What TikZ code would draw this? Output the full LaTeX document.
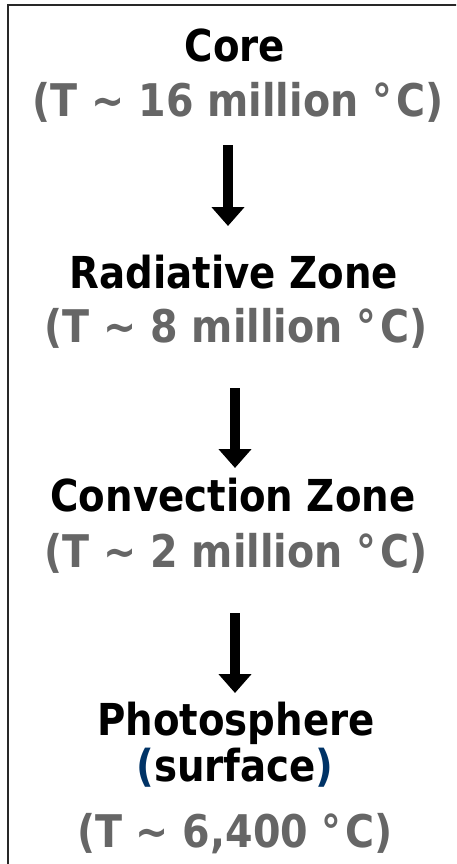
\documentclass[tikz,border=0pt]{standalone}
\usepackage{fontspec}
\setmainfont{DejaVu Sans}[FakeStretch=0.88]
\usetikzlibrary{arrows.meta}
\definecolor{tgray}{RGB}{102,102,102}
\definecolor{pblue}{RGB}{0,51,102}
\definecolor{frame}{RGB}{40,40,40}
\newcommand{\degC}{°\kern4pt C}
\tikzset{
  lbl/.style={anchor=base, inner sep=0pt, font=\fontsize{44}{48}\selectfont\bfseries},
  temp/.style={anchor=base, inner sep=0pt, font=\fontsize{45}{50}\selectfont\bfseries, text=tgray},
  flowarrow/.style={line width=10pt, -{Triangle[width=32pt,length=19pt]}, black},
}
\begin{document}
\begin{tikzpicture}[x=1pt,y=-1pt]
\useasboundingbox (0,0) rectangle (456,864);
\fill[white] (0,0) rectangle (456,864);
\begin{scope}
\clip (0,0) rectangle (456,864);
\draw[frame, line width=2pt] (7.5,5) rectangle (480,890);
\end{scope}
\node[lbl]  (core)   at (235,62)  {Core};
\node[temp] (coreT)  at (238,117) {(T \char"007E{} 16 million \degC)};
\node[lbl]  (rad)    at (234,288) {Radiative Zone};
\node[temp] (radT)   at (236,342) {(T \char"007E{} 8 million \degC)};
\node[lbl]  (conv)   at (233,511) {Convection Zone};
\node[temp] (convT)  at (236,567) {(T \char"007E{} 2 million \degC)};
\node[lbl]  (photo)  at (236,735) {Photosphere};
\node[lbl]  (photoS) at (235,781) {\textcolor{pblue}{(}surface\textcolor{pblue}{)}};
\node[temp] (photoT) at (235,847) {(T \char"007E{} 6,400 \degC)};
\coordinate (a1s) at (228,145);
\coordinate (a1e) at (228,226);
\coordinate (a2s) at (235,388);
\coordinate (a2e) at (235,468);
\coordinate (a3s) at (235,613);
\coordinate (a3e) at (235,693);
\draw[flowarrow] (a1s) -- (a1e);
\draw[flowarrow] (a2s) -- (a2e);
\draw[flowarrow] (a3s) -- (a3e);
\end{tikzpicture}
\end{document}
